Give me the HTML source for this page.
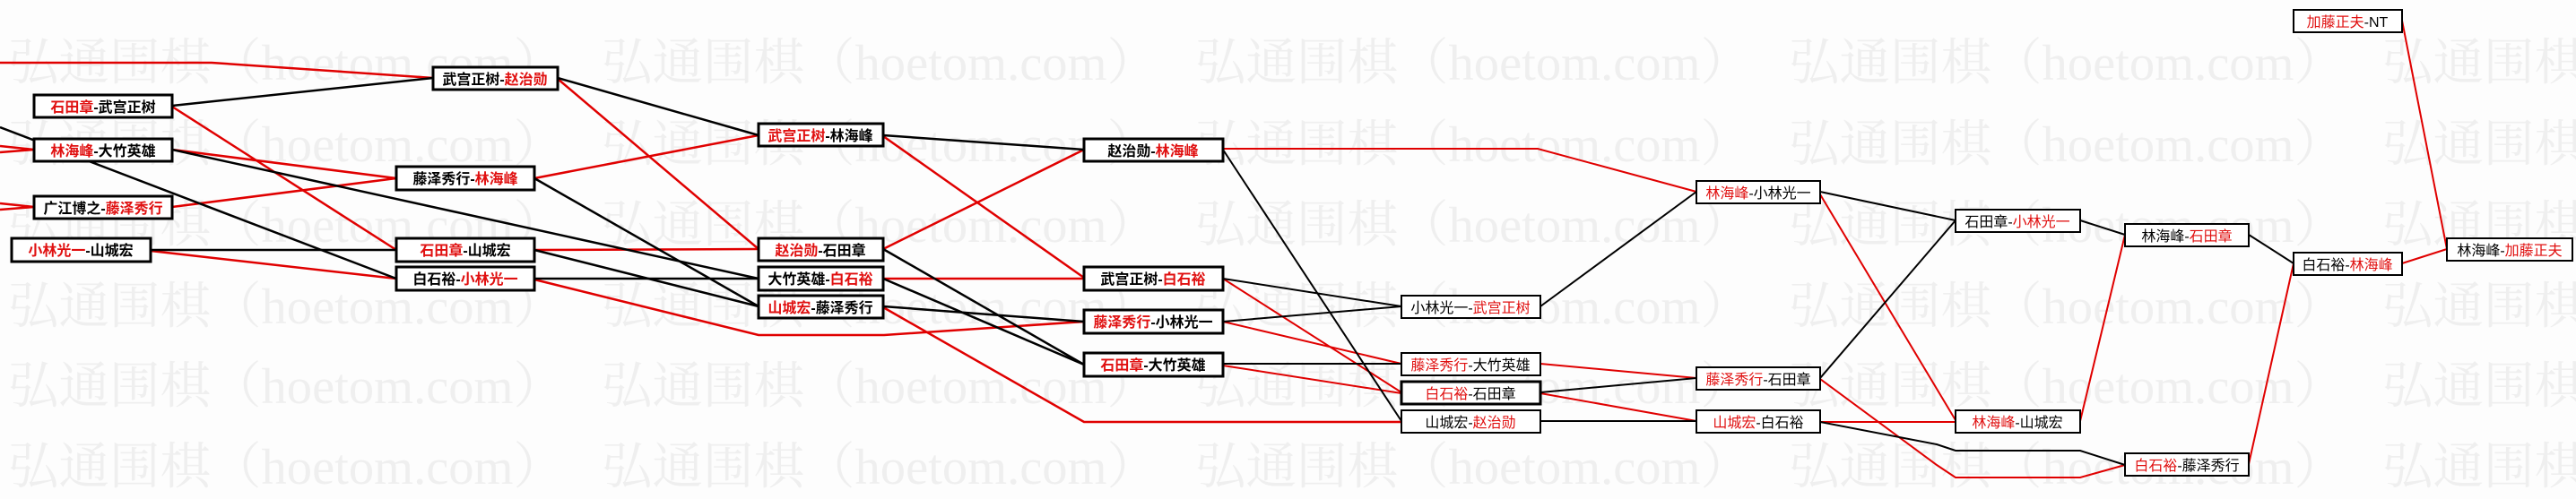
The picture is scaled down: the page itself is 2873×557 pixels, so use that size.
<!DOCTYPE html>
<html><head><meta charset="utf-8"><style>
html,body{margin:0;padding:0;background:#fdfdfd;}
svg{display:block;}
.wm{font-family:"Liberation Serif","Noto Serif CJK SC",serif;font-size:56px;fill:#efefef;}
.t{font-family:"Liberation Sans","Noto Sans CJK SC",sans-serif;font-size:16px;fill:#000;}
.b{font-weight:bold;}
.r{fill:#e01010;}
.bx{fill:#fff;stroke:#000;}
</style></head><body>
<svg width="2873" height="557" viewBox="0 0 2873 557" xmlns="http://www.w3.org/2000/svg">
<g class="wm">
<text x="9" y="89" textLength="620" lengthAdjust="spacingAndGlyphs">弘通围棋（hoetom.com）</text>
<text x="671" y="89" textLength="620" lengthAdjust="spacingAndGlyphs">弘通围棋（hoetom.com）</text>
<text x="1333" y="89" textLength="620" lengthAdjust="spacingAndGlyphs">弘通围棋（hoetom.com）</text>
<text x="1995" y="89" textLength="620" lengthAdjust="spacingAndGlyphs">弘通围棋（hoetom.com）</text>
<text x="2657" y="89" textLength="620" lengthAdjust="spacingAndGlyphs">弘通围棋（hoetom.com）</text>
<text x="9" y="180" textLength="620" lengthAdjust="spacingAndGlyphs">弘通围棋（hoetom.com）</text>
<text x="671" y="180" textLength="620" lengthAdjust="spacingAndGlyphs">弘通围棋（hoetom.com）</text>
<text x="1333" y="180" textLength="620" lengthAdjust="spacingAndGlyphs">弘通围棋（hoetom.com）</text>
<text x="1995" y="180" textLength="620" lengthAdjust="spacingAndGlyphs">弘通围棋（hoetom.com）</text>
<text x="2657" y="180" textLength="620" lengthAdjust="spacingAndGlyphs">弘通围棋（hoetom.com）</text>
<text x="9" y="270" textLength="620" lengthAdjust="spacingAndGlyphs">弘通围棋（hoetom.com）</text>
<text x="671" y="270" textLength="620" lengthAdjust="spacingAndGlyphs">弘通围棋（hoetom.com）</text>
<text x="1333" y="270" textLength="620" lengthAdjust="spacingAndGlyphs">弘通围棋（hoetom.com）</text>
<text x="1995" y="270" textLength="620" lengthAdjust="spacingAndGlyphs">弘通围棋（hoetom.com）</text>
<text x="2657" y="270" textLength="620" lengthAdjust="spacingAndGlyphs">弘通围棋（hoetom.com）</text>
<text x="9" y="361" textLength="620" lengthAdjust="spacingAndGlyphs">弘通围棋（hoetom.com）</text>
<text x="671" y="361" textLength="620" lengthAdjust="spacingAndGlyphs">弘通围棋（hoetom.com）</text>
<text x="1333" y="361" textLength="620" lengthAdjust="spacingAndGlyphs">弘通围棋（hoetom.com）</text>
<text x="1995" y="361" textLength="620" lengthAdjust="spacingAndGlyphs">弘通围棋（hoetom.com）</text>
<text x="2657" y="361" textLength="620" lengthAdjust="spacingAndGlyphs">弘通围棋（hoetom.com）</text>
<text x="9" y="450" textLength="620" lengthAdjust="spacingAndGlyphs">弘通围棋（hoetom.com）</text>
<text x="671" y="450" textLength="620" lengthAdjust="spacingAndGlyphs">弘通围棋（hoetom.com）</text>
<text x="1333" y="450" textLength="620" lengthAdjust="spacingAndGlyphs">弘通围棋（hoetom.com）</text>
<text x="1995" y="450" textLength="620" lengthAdjust="spacingAndGlyphs">弘通围棋（hoetom.com）</text>
<text x="2657" y="450" textLength="620" lengthAdjust="spacingAndGlyphs">弘通围棋（hoetom.com）</text>
<text x="9" y="540" textLength="620" lengthAdjust="spacingAndGlyphs">弘通围棋（hoetom.com）</text>
<text x="671" y="540" textLength="620" lengthAdjust="spacingAndGlyphs">弘通围棋（hoetom.com）</text>
<text x="1333" y="540" textLength="620" lengthAdjust="spacingAndGlyphs">弘通围棋（hoetom.com）</text>
<text x="1995" y="540" textLength="620" lengthAdjust="spacingAndGlyphs">弘通围棋（hoetom.com）</text>
<text x="2657" y="540" textLength="620" lengthAdjust="spacingAndGlyphs">弘通围棋（hoetom.com）</text>
</g>

<g fill="none" stroke-width="2.5" stroke="#e00000">
<polyline points="0,70 236,70 483,87"/>
<line x1="192" y1="119" x2="442" y2="279"/>
<polyline points="0,163 38,167 0,170"/>
<polyline points="0,227 38,231 0,234"/>
<line x1="192" y1="167" x2="442" y2="199"/>
<line x1="192" y1="231" x2="442" y2="199"/>
<line x1="168" y1="280" x2="442" y2="311"/>
<line x1="622" y1="88" x2="846" y2="278"/>
<line x1="596" y1="199" x2="846" y2="151"/>
<line x1="596" y1="279" x2="846" y2="278"/>
<polyline points="596,312 846,374 986,374 1209,359"/>
<line x1="985" y1="152" x2="1209" y2="310"/>
<line x1="985" y1="278" x2="1209" y2="167"/>
<line x1="985" y1="311" x2="1209" y2="311"/>
<polyline points="985,343 1209,471 1563,471"/>
</g>
<g fill="none" stroke-width="2" stroke="#e00000">
<polyline points="1364,166 1715,166 1892,214"/>
<line x1="1364" y1="311" x2="1563" y2="438"/>
<line x1="1364" y1="359" x2="1563" y2="406"/>
<line x1="1364" y1="408" x2="1563" y2="439"/>
<line x1="1718" y1="406" x2="1892" y2="422"/>
<line x1="1718" y1="439" x2="1892" y2="470"/>
<line x1="2030" y1="217" x2="2181" y2="469"/>
<polyline points="2030,423 2160,519 2181,533 2320,533 2370,519"/>
<line x1="2030" y1="471" x2="2181" y2="471"/>
<line x1="2320" y1="470" x2="2370" y2="262"/>
<line x1="2508" y1="518" x2="2558" y2="294"/>
<line x1="2679" y1="294" x2="2729" y2="278"/>
<line x1="2679" y1="23" x2="2729" y2="278"/>
</g>
<g fill="none" stroke-width="2.5" stroke="#000">
<line x1="192" y1="118" x2="483" y2="87"/>
<line x1="0" y1="142" x2="442" y2="311"/>
<line x1="192" y1="167" x2="846" y2="311"/>
<line x1="168" y1="279" x2="442" y2="279"/>
<line x1="622" y1="87" x2="846" y2="151"/>
<line x1="596" y1="199" x2="846" y2="342"/>
<line x1="596" y1="279" x2="846" y2="342"/>
<line x1="596" y1="311" x2="846" y2="311"/>
<line x1="985" y1="151" x2="1209" y2="167"/>
<line x1="985" y1="278" x2="1209" y2="407"/>
<line x1="985" y1="311" x2="1209" y2="407"/>
<line x1="985" y1="342" x2="1209" y2="359"/>
</g>
<g fill="none" stroke-width="2" stroke="#000">
<line x1="1364" y1="167" x2="1563" y2="470"/>
<line x1="1364" y1="311" x2="1563" y2="342"/>
<line x1="1364" y1="359" x2="1563" y2="342"/>
<line x1="1364" y1="406" x2="1563" y2="406"/>
<line x1="1718" y1="342" x2="1892" y2="214"/>
<line x1="1718" y1="438" x2="1892" y2="422"/>
<line x1="1718" y1="470" x2="1892" y2="470"/>
<line x1="2030" y1="214" x2="2181" y2="246"/>
<line x1="2030" y1="422" x2="2181" y2="246"/>
<polyline points="2030,471 2160,496 2181,503 2320,503 2370,519"/>
<line x1="2320" y1="246" x2="2370" y2="262"/>
<line x1="2508" y1="262" x2="2558" y2="294"/>
</g>

<g stroke-width="3">
<rect class="bx" x="38" y="106" width="154" height="25"/>
<rect class="bx" x="38" y="155" width="154" height="25"/>
<rect class="bx" x="38" y="219" width="154" height="25"/>
<rect class="bx" x="13" y="266" width="155" height="26"/>
<rect class="bx" x="483" y="75" width="139" height="25"/>
<rect class="bx" x="442" y="186" width="154" height="26"/>
<rect class="bx" x="442" y="266" width="154" height="26"/>
<rect class="bx" x="442" y="298" width="154" height="26"/>
<rect class="bx" x="846" y="138" width="139" height="25"/>
<rect class="bx" x="846" y="266" width="139" height="25"/>
<rect class="bx" x="846" y="298" width="139" height="26"/>
<rect class="bx" x="846" y="330" width="139" height="25"/>
<rect class="bx" x="1209" y="155" width="155" height="25"/>
<rect class="bx" x="1209" y="298" width="155" height="26"/>
<rect class="bx" x="1209" y="346" width="155" height="26"/>
<rect class="bx" x="1209" y="394" width="155" height="26"/>
</g>
<g stroke-width="2">
<rect class="bx" x="1563" y="330" width="155" height="25"/>
<rect class="bx" x="1563" y="394" width="155" height="25"/>
<rect class="bx" x="1563" y="426" width="155" height="25" stroke-width="3"/>
<rect class="bx" x="1563" y="458" width="155" height="25"/>
<rect class="bx" x="1892" y="202" width="138" height="25"/>
<rect class="bx" x="1892" y="410" width="138" height="25"/>
<rect class="bx" x="1892" y="458" width="138" height="25"/>
<rect class="bx" x="2181" y="234" width="139" height="25"/>
<rect class="bx" x="2181" y="458" width="139" height="25"/>
<rect class="bx" x="2370" y="250" width="138" height="25"/>
<rect class="bx" x="2370" y="506" width="138" height="25"/>
<rect class="bx" x="2558" y="282" width="121" height="25"/>
<rect class="bx" x="2558" y="11" width="121" height="25"/>
<rect class="bx" x="2729" y="266" width="140" height="25"/>
</g>

<g class="t b" text-anchor="middle">
<text x="115" y="125"><tspan class="r">石田章</tspan>-武宫正树</text>
<text x="115" y="174"><tspan class="r">林海峰</tspan>-大竹英雄</text>
<text x="115" y="238">广江博之-<tspan class="r">藤泽秀行</tspan></text>
<text x="90" y="285"><tspan class="r">小林光一</tspan>-山城宏</text>
<text x="552" y="94">武宫正树-<tspan class="r">赵治勋</tspan></text>
<text x="519" y="205">藤泽秀行-<tspan class="r">林海峰</tspan></text>
<text x="519" y="285"><tspan class="r">石田章</tspan>-山城宏</text>
<text x="519" y="317">白石裕-<tspan class="r">小林光一</tspan></text>
<text x="915" y="157"><tspan class="r">武宫正树</tspan>-林海峰</text>
<text x="915" y="285"><tspan class="r">赵治勋</tspan>-石田章</text>
<text x="915" y="317">大竹英雄-<tspan class="r">白石裕</tspan></text>
<text x="915" y="349"><tspan class="r">山城宏</tspan>-藤泽秀行</text>
<text x="1286" y="174">赵治勋-<tspan class="r">林海峰</tspan></text>
<text x="1286" y="317">武宫正树-<tspan class="r">白石裕</tspan></text>
<text x="1286" y="365"><tspan class="r">藤泽秀行</tspan>-小林光一</text>
<text x="1286" y="413"><tspan class="r">石田章</tspan>-大竹英雄</text>
</g>
<g class="t" text-anchor="middle">
<text x="1640" y="349">小林光一-<tspan class="r">武宫正树</tspan></text>
<text x="1640" y="413"><tspan class="r">藤泽秀行</tspan>-大竹英雄</text>
<text x="1640" y="445"><tspan class="r">白石裕</tspan>-石田章</text>
<text x="1640" y="477">山城宏-<tspan class="r">赵治勋</tspan></text>
<text x="1961" y="221"><tspan class="r">林海峰</tspan>-小林光一</text>
<text x="1961" y="429"><tspan class="r">藤泽秀行</tspan>-石田章</text>
<text x="1961" y="477"><tspan class="r">山城宏</tspan>-白石裕</text>
<text x="2250" y="253">石田章-<tspan class="r">小林光一</tspan></text>
<text x="2250" y="477"><tspan class="r">林海峰</tspan>-山城宏</text>
<text x="2439" y="269">林海峰-<tspan class="r">石田章</tspan></text>
<text x="2439" y="525"><tspan class="r">白石裕</tspan>-藤泽秀行</text>
<text x="2618" y="301">白石裕-<tspan class="r">林海峰</tspan></text>
<text x="2618" y="30"><tspan class="r">加藤正夫</tspan>-NT</text>
<text x="2799" y="285">林海峰-<tspan class="r">加藤正夫</tspan></text>
</g>
</svg>
</body></html>
